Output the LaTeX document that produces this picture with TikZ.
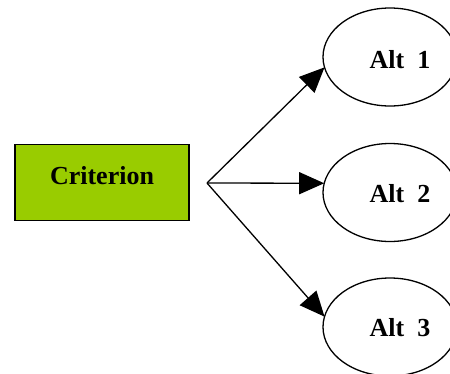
\documentclass[tikz,border=0pt]{standalone}
\usepackage{fontspec}
\setmainfont{Liberation Serif}
\usetikzlibrary{arrows.meta,shapes.geometric}

\definecolor{critgreen}{HTML}{99CC00}

\begin{document}
\begin{tikzpicture}[x=1pt, y=-1pt,
    crit/.style={draw, line width=1.5pt, fill=critgreen, minimum width=174pt, minimum height=76pt, inner sep=0pt},
    alt/.style={draw, ellipse, line width=1.3pt, minimum width=134pt, minimum height=98pt, inner sep=0pt, outer sep=0pt},
    lbl/.style={font=\fontsize{26}{30}\selectfont\bfseries, inner sep=0pt},
    arr/.style={line width=1.3pt, -{Triangle[length=25pt, width=22pt]}}]
    \useasboundingbox (0, 0) rectangle (450, 373);

    \node [crit] (crit) at (102, 182.5) {};
    \node [lbl] (critlbl) at (102, 176) {Criterion};

    \node [alt] (alt1) at (390, 57) {};
    \node [alt] (alt2) at (390, 192.5) {};
    \node [alt] (alt3) at (390, 327) {};
    \node [lbl] (alt1lbl) at (400, 60) {Alt~~1};
    \node [lbl] (alt2lbl) at (400, 194) {Alt~~2};
    \node [lbl] (alt3lbl) at (400, 328) {Alt~~3};

    \coordinate (fork) at (207, 183);
    \draw [arr] (fork) -- (alt1.189);
    \draw [arr] (fork) -- (alt2.172);
    \draw [arr] (fork) -- (alt3.171);
\end{tikzpicture}
\end{document}
